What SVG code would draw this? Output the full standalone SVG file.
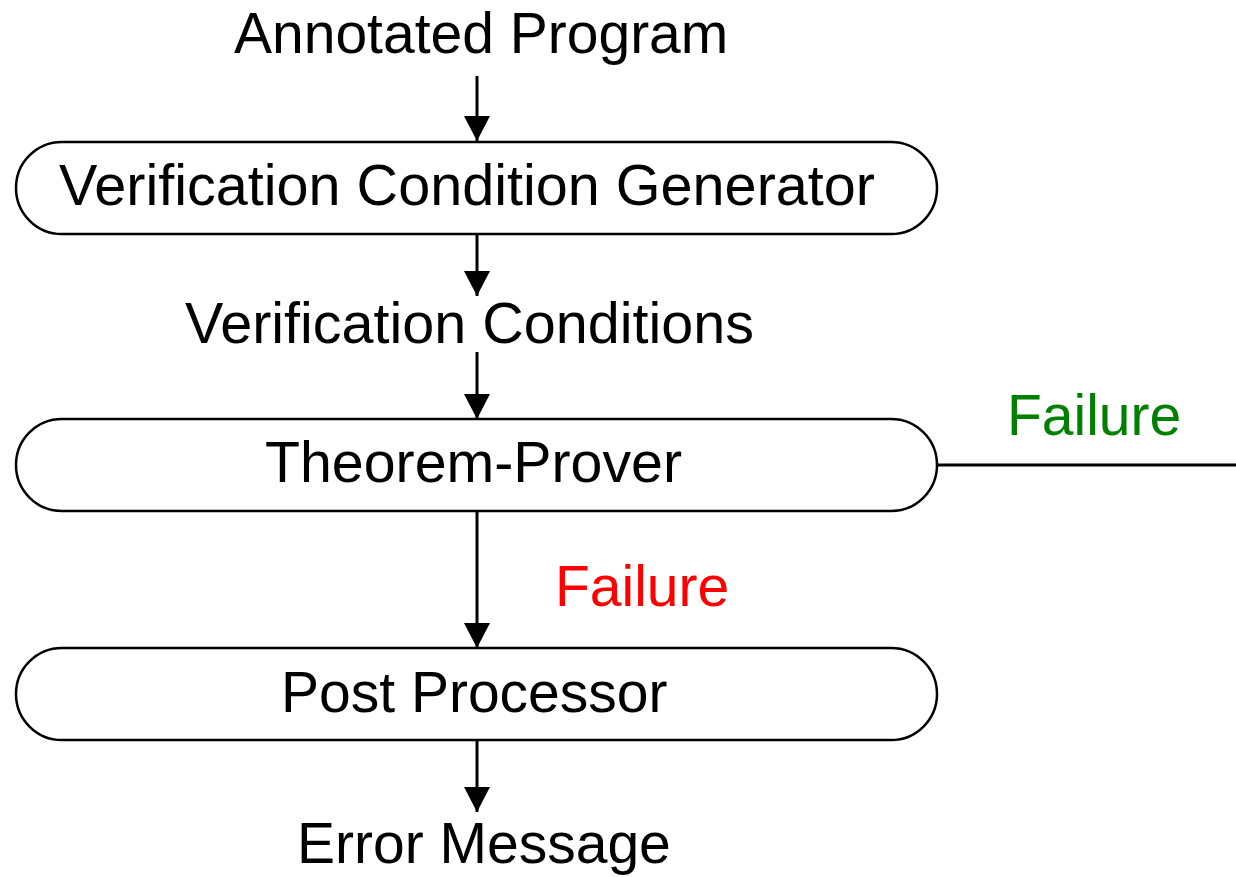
<svg xmlns="http://www.w3.org/2000/svg" width="1236" height="877" viewBox="0 0 1236 877">
<style>
.box{fill:#fff;stroke:#000;stroke-width:2.5}
.t{font-family:"Liberation Sans",Arial,sans-serif;font-size:57px;fill:#000}
.ln{stroke:#000;stroke-width:3;fill:none}
</style>
<defs>
<marker id="ah" markerUnits="userSpaceOnUse" markerWidth="24" markerHeight="26" refX="25" refY="13" orient="auto">
<path d="M0,0 L25,13 L0,26 Z" fill="#000"/>
</marker>
</defs>
<g id="connectors">
<line class="ln" x1="477" y1="76" x2="477" y2="141" marker-end="url(#ah)"/>
<line class="ln" x1="477" y1="234" x2="477" y2="296" marker-end="url(#ah)"/>
<line class="ln" x1="477" y1="352" x2="477" y2="419" marker-end="url(#ah)"/>
<line class="ln" x1="477" y1="511" x2="477" y2="648" marker-end="url(#ah)"/>
<line class="ln" x1="477" y1="740" x2="477" y2="812" marker-end="url(#ah)"/>
<line class="ln" x1="937" y1="465" x2="1236" y2="465"/>
</g>
<g id="annotated-program"><text class="t" x="234" y="53">Annotated Program</text></g>
<g id="vcg">
<rect class="box" x="16" y="142" width="921" height="92" rx="46" ry="46"/>
<text class="t" x="59" y="205" textLength="816" lengthAdjust="spacingAndGlyphs">Verification Condition Generator</text>
</g>
<g id="verification-conditions"><text class="t" x="185" y="343" textLength="569" lengthAdjust="spacingAndGlyphs">Verification Conditions</text></g>
<g id="theorem-prover">
<rect class="box" x="16" y="419" width="921" height="92" rx="46" ry="46"/>
<text class="t" x="265" y="482" textLength="417" lengthAdjust="spacingAndGlyphs">Theorem-Prover</text>
</g>
<g id="failure-green"><text class="t" x="1007" y="435" style="fill:#008000">Failure</text></g>
<g id="failure-red"><text class="t" x="555" y="606" style="fill:#ff0000">Failure</text></g>
<g id="post-processor">
<rect class="box" x="16" y="648" width="921" height="92" rx="46" ry="46"/>
<text class="t" x="281" y="712">Post Processor</text>
</g>
<g id="error-message"><text class="t" x="297" y="863">Error Message</text></g>
</svg>
